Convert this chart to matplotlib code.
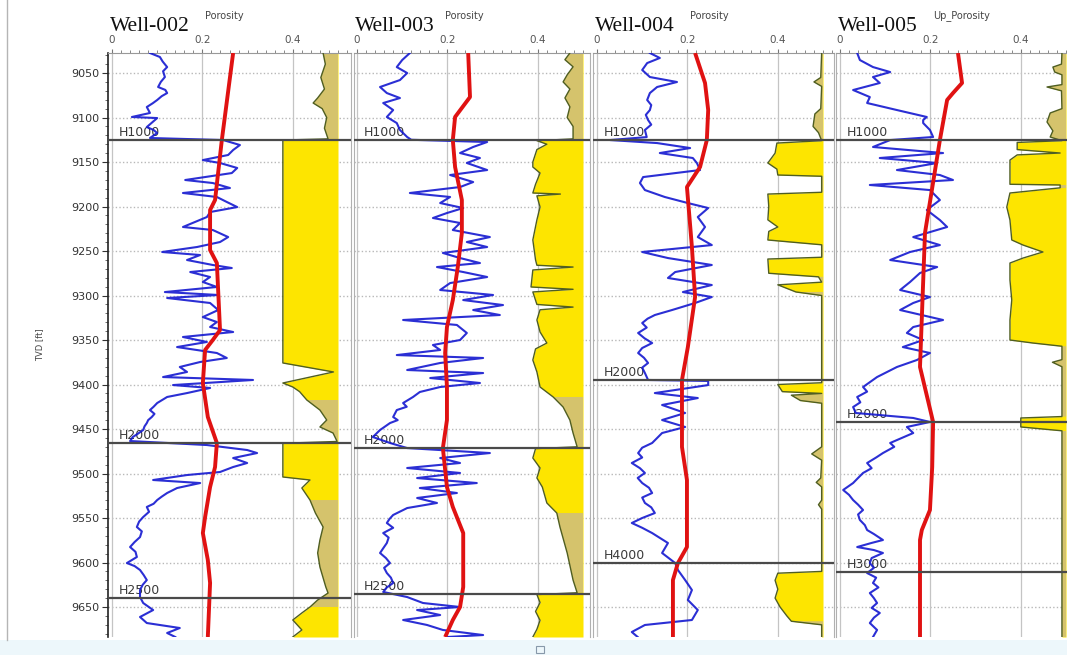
import numpy as np
import matplotlib
matplotlib.use("Agg")
import matplotlib.pyplot as plt
from matplotlib.lines import Line2D
from matplotlib.patches import Rectangle

# ---------------- data ----------------
wells = ["Well-002", "Well-003", "Well-004", "Well-005"]
curve_names = ["Porosity", "Porosity", "Porosity", "Up_Porosity"]
depth_ticks = [9050, 9100, 9150, 9200, 9250, 9300, 9350, 9400, 9450, 9500, 9550, 9600, 9650]
x_ticks = [0, 0.2, 0.4]
x_tick_labels = ["0", "0.2", "0.4"]
depth_top, depth_bottom = 9027.5, 9683.7

# Well-002
w002_phi = [(9027.5, 0.084), (9032, 0.106), (9037, 0.112), (9043.3, 0.122), (9048, 0.113), (9054.5, 0.117),
            (9060, 0.108), (9065.7, 0.102), (9069, 0.118), (9072.5, 0.122), (9076, 0.110),
            (9080.3, 0.100), (9084, 0.090), (9088.2, 0.077), (9094.9, 0.084), (9099.4, 0.044), (9100.6, 0.100),
            (9105, 0.090), (9110.7, 0.077), (9114, 0.092),
            (9117.4, 0.100), (9123, 0.084), (9125.3, 0.246), (9130.9, 0.283), (9136.5, 0.268), (9142.1, 0.257),
            (9147.8, 0.201), (9151.1, 0.239), (9156.7, 0.277), (9162.4, 0.265), (9170.2, 0.162), (9173.6, 0.223),
            (9179.2, 0.261), (9184.8, 0.157), (9189.3, 0.232), (9194.9, 0.254), (9200.6, 0.277), (9206.2, 0.217),
            (9211.8, 0.210), (9223.0, 0.157), (9226.4, 0.223), (9234.3, 0.257), (9239.9, 0.239), (9245.5, 0.188),
            (9251.1, 0.111), (9254.5, 0.195), (9260.1, 0.166), (9265.7, 0.223), (9269.1, 0.265), (9273.6, 0.173),
            (9279.2, 0.217), (9284.8, 0.201), (9290.4, 0.232), (9296.1, 0.117), (9299.4, 0.235), (9302.8, 0.122),
            (9308.4, 0.217), (9316.3, 0.235), (9324.2, 0.201), (9329.8, 0.232), (9335.4, 0.217), (9341.0, 0.268),
            (9346.6, 0.157), (9352.2, 0.210), (9357.9, 0.144), (9364.6, 0.232), (9370.2, 0.254), (9374.7, 0.195),
            (9380.3, 0.150), (9385.9, 0.166), (9391.6, 0.113), (9394.9, 0.312), (9400.6, 0.135), (9403.9, 0.217),
            (9409.6, 0.166), (9414.0, 0.122), (9420.8, 0.100), (9425, 0.092), (9428.7, 0.084), (9433, 0.094),
            (9436.5, 0.088), (9440, 0.080), (9443.3, 0.077), (9447, 0.072),
            (9451.1, 0.069), (9455, 0.058), (9459.0, 0.046), (9463.5, 0.040), (9468.0, 0.210), (9473.6, 0.299),
            (9477.0, 0.321), (9482.6, 0.268), (9488.2, 0.299), (9492.7, 0.268), (9498.3, 0.239), (9501.7, 0.166),
            (9507.3, 0.091), (9510.7, 0.195), (9516.3, 0.144), (9521.9, 0.122), (9526, 0.110), (9529.8, 0.100),
            (9534, 0.092), (9537.6, 0.077), (9543, 0.082), (9548.9, 0.069), (9554, 0.060),
            (9560.1, 0.055), (9565, 0.066), (9571.4, 0.062), (9577, 0.050), (9582.6, 0.040), (9588, 0.052),
            (9593.8, 0.055), (9600.6, 0.033), (9604, 0.050), (9608.4, 0.062), (9614, 0.070),
            (9619.7, 0.077), (9625, 0.068), (9630.9, 0.062), (9638.8, 0.062), (9645.5, 0.069), (9653.4, 0.091),
            (9661.2, 0.062), (9668.0, 0.077), (9673.6, 0.150), (9679.2, 0.122), (9683.7, 0.140)]
w002_trend = [(9027.5, 0.268), (9125.3, 0.243), (9192.7, 0.228), (9203.9, 0.217), (9248.9, 0.217), (9263.5, 0.232),
              (9338.8, 0.239), (9350, 0.223), (9361.2, 0.206), (9398.3, 0.201), (9436.5, 0.212), (9465.7, 0.232),
              (9492.7, 0.228), (9515.2, 0.217), (9548.9, 0.206), (9566.9, 0.201), (9597.2, 0.212), (9623, 0.217),
              (9683.7, 0.212)]
w002_shade = [(9027.5, 0.467), (9040, 0.472), (9055, 0.462), (9068, 0.470), (9078, 0.455), (9083.7, 0.445),
              (9090, 0.465), (9100, 0.475), (9112, 0.470), (9124, 0.478), (9125.3, 0.378), (9375.8, 0.378),
              (9385.9, 0.490), (9398.3, 0.378), (9402.8, 0.400), (9408, 0.415), (9417.4, 0.431), (9428.7, 0.460),
              (9439.9, 0.475), (9447.7, 0.460), (9454.5, 0.489), (9464, 0.498), (9466, 0.378), (9503.9, 0.378),
              (9507.3, 0.438), (9516.3, 0.420), (9529.8, 0.438), (9544.4, 0.450), (9560.1, 0.467), (9574.7, 0.460),
              (9589.3, 0.455), (9605.1, 0.460), (9627.5, 0.473), (9634.3, 0.478), (9642.1, 0.455), (9650, 0.438),
              (9656.7, 0.420), (9664.6, 0.400), (9675.8, 0.420), (9683.7, 0.400)]
w002_horizons = [("H1000", 9125.3), ("H2000", 9465.7), ("H2500", 9639.9)]

# Well-003
w003_phi = [(9027.5, 0.117), (9035.4, 0.100), (9043.3, 0.088), (9050, 0.111), (9057.9, 0.095), (9065.7, 0.051),
            (9072.5, 0.066), (9078.1, 0.095), (9083.7, 0.058), (9091.6, 0.080), (9099.4, 0.066), (9106.2, 0.088),
            (9114.0, 0.095), (9121.9, 0.111), (9125, 0.120), (9127.5, 0.288), (9133.1, 0.257), (9139.9, 0.228),
            (9145.5, 0.272), (9151.1, 0.243), (9159.0, 0.288), (9164.6, 0.206), (9172.5, 0.257), (9178.1, 0.228),
            (9184.8, 0.117), (9189.3, 0.206), (9196.1, 0.184), (9201.7, 0.235), (9207.3, 0.199), (9212.9, 0.168),
            (9218.5, 0.228), (9226.4, 0.212), (9234.3, 0.294), (9239.9, 0.243), (9245.5, 0.288), (9252.2, 0.190),
            (9257.9, 0.228), (9263.5, 0.272), (9268.0, 0.177), (9273.6, 0.235), (9279.2, 0.288), (9286.0, 0.206),
            (9293.8, 0.184), (9299.4, 0.301), (9305.1, 0.235), (9310.7, 0.323), (9316.3, 0.257), (9321.9, 0.316),
            (9327.5, 0.102), (9333.1, 0.221), (9342.1, 0.243), (9350.0, 0.228), (9355.6, 0.168), (9361.2, 0.184),
            (9366.9, 0.088), (9370.2, 0.279), (9375.8, 0.184), (9383.7, 0.111), (9387.1, 0.279), (9392.7, 0.162),
            (9398.3, 0.272), (9402.8, 0.184), (9408.4, 0.139), (9414.0, 0.124), (9420.8, 0.102), (9425, 0.110),
            (9428.7, 0.088), (9436.5, 0.080), (9440, 0.090), (9443.3, 0.073), (9451.1, 0.051), (9459.0, 0.035),
            (9465.7, 0.073), (9471.4, 0.111),
            (9477.0, 0.294), (9482.6, 0.184), (9488.2, 0.228), (9493.8, 0.111), (9499.4, 0.228), (9505.1, 0.133),
            (9510.7, 0.265), (9516.3, 0.139), (9521.9, 0.221), (9527.5, 0.133), (9533.1, 0.177), (9538.8, 0.111),
            (9546.6, 0.080), (9551, 0.072), (9555.6, 0.066), (9561, 0.080), (9566.9, 0.058), (9572, 0.070),
            (9578.1, 0.066), (9584, 0.058), (9589.3, 0.051), (9595, 0.064), (9600.6, 0.073), (9606, 0.060),
            (9611.8, 0.066), (9617, 0.075), (9623.0, 0.080), (9628, 0.066), (9633.1, 0.058), (9638.8, 0.111),
            (9645.5, 0.146), (9650.0, 0.228),
            (9653.4, 0.133), (9659.0, 0.184), (9664.6, 0.102), (9670.2, 0.155), (9675.8, 0.190), (9681.5, 0.279),
            (9683.7, 0.200)]
w003_trend = [(9027.5, 0.246), (9077.0, 0.250), (9099.4, 0.217), (9125.3, 0.212), (9155.6, 0.217), (9192.7, 0.232),
              (9229.8, 0.232), (9268.0, 0.223), (9305.1, 0.212), (9335.4, 0.199), (9364.6, 0.195), (9402.8, 0.199),
              (9439.9, 0.199), (9471.4, 0.190), (9515.2, 0.199), (9537.6, 0.212), (9566.9, 0.235), (9627.5, 0.235),
              (9650.0, 0.228), (9664.6, 0.212), (9683.7, 0.195)]
w003_shade = [(9027.5, 0.471), (9035, 0.460), (9043, 0.478), (9052, 0.465), (9060, 0.456), (9068, 0.471),
              (9078, 0.460), (9088, 0.471), (9100, 0.465), (9110, 0.478), (9124, 0.478), (9126, 0.398),
              (9130, 0.420), (9136, 0.398), (9150, 0.389), (9155.6, 0.389), (9162.4, 0.405), (9175, 0.395),
              (9184.8, 0.389), (9186, 0.450), (9188, 0.398), (9200.6, 0.405), (9215, 0.398), (9237.6, 0.389),
              (9260, 0.395), (9266, 0.398), (9268.0, 0.478), (9271.3, 0.389), (9290.4, 0.385), (9293, 0.478),
              (9296, 0.389), (9310, 0.398), (9313, 0.478), (9316, 0.405), (9327.5, 0.398), (9341, 0.405),
              (9353.4, 0.420), (9360, 0.395), (9372.5, 0.389), (9385.9, 0.398), (9402.8, 0.405), (9414, 0.434),
              (9425.3, 0.456), (9440, 0.471), (9454.5, 0.478), (9470, 0.487), (9472, 0.395), (9482.6, 0.389),
              (9493.8, 0.405), (9505, 0.398), (9515.2, 0.410), (9533.1, 0.420), (9544.4, 0.442), (9560.1, 0.449),
              (9589.3, 0.465), (9619.7, 0.478), (9634, 0.487), (9636, 0.398), (9645, 0.405), (9655, 0.395),
              (9665, 0.405), (9675, 0.398), (9683.7, 0.389)]
w003_horizons = [("H1000", 9125.3), ("H2000", 9471.4), ("H2500", 9635.4)]

# Well-004
w004_phi = [(9027.5, 0.117), (9033.1, 0.139), (9038.8, 0.111), (9046.6, 0.100), (9054.5, 0.117), (9060.1, 0.177),
            (9065.7, 0.133), (9072.5, 0.117), (9080.3, 0.111), (9086, 0.120), (9091.6, 0.117), (9097, 0.108),
            (9102.8, 0.113), (9108, 0.120), (9114.0, 0.106),
            (9122, 0.110), (9125.3, 0.029), (9128.7, 0.133), (9134.3, 0.206), (9139.9, 0.139), (9145.5, 0.212),
            (9151.1, 0.221), (9159.0, 0.228), (9166.9, 0.102), (9173.6, 0.095), (9181.5, 0.106), (9189.3, 0.150),
            (9196.1, 0.201), (9201.7, 0.246), (9211.8, 0.223), (9223.0, 0.239), (9234.3, 0.223), (9243.3, 0.254),
            (9251.1, 0.100), (9257.9, 0.157), (9265.7, 0.254), (9273.6, 0.173), (9280.3, 0.157), (9288.2, 0.254),
            (9296.1, 0.190), (9301.7, 0.254), (9308.4, 0.217), (9316.3, 0.166), (9321.9, 0.128), (9326, 0.112),
            (9330.9, 0.100), (9336, 0.110), (9342.1, 0.091), (9348, 0.105), (9353.4, 0.122), (9359, 0.100),
            (9364.6, 0.091), (9370, 0.104), (9375.8, 0.113), (9381, 0.100), (9387.1, 0.106), (9394.9, 0.113),
            (9396, 0.246), (9400.6, 0.246), (9409.6, 0.128), (9415.2, 0.223), (9423.0, 0.144), (9432.0, 0.195),
            (9439.9, 0.144), (9447.7, 0.195), (9454.5, 0.144), (9465.7, 0.122), (9471, 0.100), (9477.0, 0.091),
            (9482, 0.100), (9488.2, 0.077), (9494, 0.095), (9499.4, 0.106), (9505, 0.090), (9510.7, 0.100),
            (9516, 0.115), (9521.9, 0.122), (9527, 0.100), (9533.1, 0.106), (9538, 0.120), (9544.4, 0.128),
            (9550, 0.100), (9555.6, 0.077), (9561, 0.100),
            (9566.9, 0.122), (9578.1, 0.157), (9589.3, 0.144), (9600.6, 0.173), (9608.4, 0.179), (9619.7, 0.195),
            (9630.9, 0.210), (9642.1, 0.201), (9653.4, 0.223), (9664.6, 0.210), (9670.2, 0.106), (9678.1, 0.077),
            (9683.7, 0.090)]
w004_trend = [(9027.5, 0.217), (9061.2, 0.239), (9091.6, 0.246), (9125.3, 0.243), (9155.6, 0.228), (9178.1, 0.199),
              (9245.5, 0.210), (9301.7, 0.217), (9357.9, 0.201), (9394.9, 0.188), (9470.2, 0.188), (9507.3, 0.199),
              (9582.6, 0.199), (9600.6, 0.179), (9619.7, 0.168), (9683.7, 0.168)]
w004_shade = [(9027.5, 0.497), (9055, 0.495), (9060, 0.480), (9065, 0.497), (9090, 0.495), (9096, 0.482),
              (9110, 0.478), (9117, 0.490), (9126, 0.497), (9128.7, 0.398), (9140, 0.394), (9151.1, 0.378),
              (9158, 0.398), (9164.6, 0.400), (9166, 0.497), (9184, 0.497), (9186, 0.378), (9200, 0.380),
              (9215, 0.378), (9223, 0.400), (9228, 0.380), (9237.6, 0.378), (9243, 0.497), (9257, 0.497),
              (9259, 0.378), (9275, 0.380), (9279, 0.490), (9285, 0.497), (9288, 0.400), (9296, 0.440),
              (9300, 0.497), (9398, 0.497), (9400, 0.400), (9408, 0.410), (9410, 0.497), (9412, 0.430),
              (9418, 0.450), (9421, 0.497), (9470, 0.497), (9478, 0.475), (9485, 0.497), (9505, 0.495),
              (9510, 0.485), (9515, 0.497), (9530, 0.497), (9535, 0.490), (9540, 0.497), (9610, 0.497),
              (9612, 0.400), (9620, 0.394), (9630, 0.400), (9640, 0.394), (9650, 0.405), (9660, 0.420),
              (9666, 0.430), (9670, 0.497), (9683.7, 0.497)]
w004_horizons = [("H1000", 9125.3), ("H2000", 9394.9), ("H4000", 9600.6)]

# Well-005
w005_phi = [(9027.5, 0.038), (9035.4, 0.044), (9043.3, 0.073), (9048.9, 0.111), (9054.5, 0.073), (9061.2, 0.088),
            (9069.1, 0.029), (9077.0, 0.066), (9083.7, 0.060), (9091.6, 0.126), (9099.4, 0.192), (9102.8, 0.184),
            (9106.2, 0.184), (9114.0, 0.199), (9121.9, 0.206), (9125.3, 0.111), (9133.1, 0.073), (9139.9, 0.228),
            (9145.5, 0.088), (9151.1, 0.215), (9159.0, 0.126), (9164.6, 0.221), (9170.2, 0.250), (9175.8, 0.066),
            (9181.5, 0.199), (9192.7, 0.221), (9203.9, 0.192), (9215.2, 0.221), (9223.0, 0.237), (9234.3, 0.162),
            (9243.3, 0.221), (9251.1, 0.155), (9260.1, 0.111), (9268.0, 0.215), (9274.7, 0.177), (9284.8, 0.155),
            (9293.8, 0.133), (9301.7, 0.199), (9308.4, 0.162), (9316.3, 0.133), (9327.5, 0.228), (9335.4, 0.162),
            (9342.1, 0.148), (9350.0, 0.184), (9357.9, 0.139), (9364.6, 0.199), (9372.5, 0.170), (9380.3, 0.126),
            (9391.6, 0.082), (9402.8, 0.051), (9408, 0.060), (9414.0, 0.038), (9420, 0.045), (9425.3, 0.029),
            (9432, 0.035), (9437.6, 0.162), (9442.1, 0.199), (9447.7, 0.148), (9454.5, 0.162), (9465.7, 0.111),
            (9470, 0.120), (9477.0, 0.095), (9482, 0.080), (9488.2, 0.060), (9494, 0.070), (9499.4, 0.051),
            (9505, 0.040), (9510.7, 0.029), (9518.5, 0.007), (9524, 0.020), (9529.8, 0.029), (9535, 0.040),
            (9541.0, 0.051), (9546, 0.040), (9552.2, 0.044), (9558, 0.055), (9563.5, 0.060), (9568, 0.075),
            (9574.7, 0.095), (9578, 0.070), (9582.6, 0.038), (9586, 0.075), (9589.3, 0.095), (9595, 0.070),
            (9600.6, 0.066), (9606, 0.075), (9611.8, 0.060), (9617, 0.080), (9623.0, 0.073), (9628, 0.085),
            (9634.3, 0.066), (9640, 0.075), (9645.5, 0.082), (9651, 0.070), (9656.7, 0.088), (9662, 0.075),
            (9668.0, 0.066), (9675.8, 0.082), (9683.7, 0.073)]
w005_trend = [(9027.5, 0.261), (9061.2, 0.270), (9072.5, 0.250), (9080.3, 0.237), (9125.3, 0.221), (9229.8, 0.188),
              (9380.3, 0.177), (9442.1, 0.206), (9492.7, 0.204), (9541.0, 0.199), (9563.5, 0.181), (9574.7, 0.177),
              (9683.7, 0.177)]
w005_shade = [(9027.5, 0.491), (9040, 0.490), (9043.3, 0.471), (9048.9, 0.475), (9052, 0.491), (9063, 0.491),
              (9065.7, 0.458), (9070, 0.490), (9090, 0.491), (9094.9, 0.465), (9105, 0.458), (9115, 0.471),
              (9121.9, 0.465), (9126, 0.491), (9128, 0.392), (9136, 0.392), (9139.9, 0.487), (9142, 0.392),
              (9147.8, 0.376), (9175, 0.376), (9175.8, 0.487), (9179, 0.487), (9184.8, 0.376), (9200.6, 0.369),
              (9215.2, 0.376), (9237.6, 0.380), (9243.3, 0.405), (9251.1, 0.449), (9257.9, 0.405), (9263.5, 0.376),
              (9282.6, 0.376), (9305.1, 0.380), (9327.5, 0.376), (9350, 0.376), (9353.4, 0.427), (9357, 0.491),
              (9372, 0.491), (9375, 0.470), (9380, 0.491), (9436, 0.491), (9437.6, 0.400), (9447.7, 0.400),
              (9452, 0.491), (9683.7, 0.491)]
w005_horizons = [("H1000", 9125.3), ("H2000", 9442.1), ("H3000", 9610.7)]

phi_all = [w002_phi, w003_phi, w004_phi, w005_phi]
trend_all = [w002_trend, w003_trend, w004_trend, w005_trend]
shade_all = [w002_shade, w003_shade, w004_shade, w005_shade]
horizons_all = [w002_horizons, w003_horizons, w004_horizons, w005_horizons]

# ---------------- layout (pixels) ----------------
W, H = 1067, 655
PX_PER_UNIT = 452.0
zero_px = [112, 357, 597, 840]
xlims = [(-0.009, 0.529), (-0.007, 0.515), (-0.009, 0.524), (-0.009, 0.502)]
top_px, bot_px = 53, 637

YELLOW = "#FDE500"
KHAKI = "#D5C36C"
GREEN = "#4F5E22"
BLUE = "#1418D0"
RED = "#E01212"
HCOL = "#4a4a4a"

fig = plt.figure(figsize=(W / 100, H / 100), dpi=100)
fig.patch.set_facecolor("white")

# bottom light strip, left border line, little square
fig.patches.append(Rectangle((0, 0), 1, 15 / H, transform=fig.transFigure, facecolor="#EDF7FB",
                             edgecolor="none", zorder=0))
fig.lines.append(Line2D([7 / W, 7 / W], [15 / H, 1], transform=fig.transFigure, color="#b5b5b5", lw=1))
fig.patches.append(Rectangle((536 / W, 2 / H), 8 / W, 7 / H, transform=fig.transFigure, facecolor="none",
                             edgecolor="#8899aa", lw=0.8))

for i in range(4):
    x0 = zero_px[i]
    xmin, xmax = xlims[i]
    left = (x0 + xmin * PX_PER_UNIT) / W
    width = (xmax - xmin) * PX_PER_UNIT / W
    ax = fig.add_axes([left, 1 - bot_px / H, width, (bot_px - top_px) / H])
    ax.set_xlim(xmin, xmax)
    ax.set_ylim(depth_bottom, depth_top)

    # grid
    for d in depth_ticks:
        ax.axhline(d, color="#b8b8b8", lw=1.0, ls=(0, (1, 1.6)), zorder=1)
    for xv in x_ticks:
        ax.axvline(xv, color="#c4c4c4", lw=0.9, zorder=1)

    # shaded curve: yellow everywhere, khaki where the curve sits close to the right edge
    sd = np.array([p[0] for p in shade_all[i]])
    sv = np.array([p[1] for p in shade_all[i]])
    ax.fill_betweenx(sd, sv, 0.5, color=YELLOW, lw=0, zorder=2)
    ax.fill_betweenx(sd, sv, 0.5, where=sv >= 0.43, color=KHAKI, lw=0, zorder=2.1)
    ax.plot(sv, sd, color=GREEN, lw=1.0, zorder=3)

    # porosity log
    pdp = [p[0] for p in phi_all[i]]
    pv = [p[1] for p in phi_all[i]]
    ax.plot(pv, pdp, color=BLUE, lw=1.5, zorder=4, alpha=0.9)

    # trend
    td = [p[0] for p in trend_all[i]]
    tv = [p[1] for p in trend_all[i]]
    ax.plot(tv, td, color=RED, lw=2.8, zorder=5, solid_capstyle="butt")

    # horizons
    for name, d in horizons_all[i]:
        ax.axhline(d, color=HCOL, lw=1.6, zorder=6)
        ax.text(0.016, d - 1.0, name, fontsize=9, color="#3a3a3a", ha="left", va="bottom", zorder=3)

    # x axis on top
    ax.xaxis.set_ticks_position("top")
    ax.set_xticks(x_ticks)
    ax.set_xticklabels(x_tick_labels)
    ax.set_xticks(np.arange(0, xmax, 0.02), minor=True)
    ax.tick_params(axis="x", which="major", direction="out", length=3, width=0.8, color="#777777",
                   labelsize=7.5, labelcolor="#555555", pad=2.5)
    ax.tick_params(axis="x", which="minor", direction="out", length=2.2, width=0.7, color="#888888")

    ax.spines["bottom"].set_visible(False)
    ax.spines["top"].set_color("#999999")
    ax.spines["right"].set_color("#b0b0b0")
    ax.spines["left"].set_color("#b0b0b0")

    if i == 0:
        ax.set_yticks(depth_ticks)
        ax.set_yticks(np.arange(9030, 9690, 10), minor=True)
        ax.tick_params(axis="y", which="major", direction="out", length=4, color="#333333",
                       labelsize=8, labelcolor="#333333", pad=2)
        ax.tick_params(axis="y", which="minor", direction="out", length=2, color="#555555")
        ax.spines["left"].set_color("#222222")
        ax.spines["left"].set_linewidth(1.2)
    else:
        ax.set_yticks([])

    # titles
    fig.text((x0 - 2) / W, 1 - 31 / H, wells[i], fontsize=15.5, family="Liberation Serif",
             color="#111111", ha="left", va="baseline", zorder=10)

porosity_px = [205, 445, 690, 933]
for i in range(4):
    fig.text(porosity_px[i] / W, 1 - 16 / H, curve_names[i], fontsize=7, color="#444444",
             ha="left", va="center", zorder=5)

fig.text(40 / W, 1 - 345 / H, "TVD [ft]", fontsize=6, color="#444444", rotation=90,
         ha="center", va="center")

fig.savefig("out.png", dpi=100)
